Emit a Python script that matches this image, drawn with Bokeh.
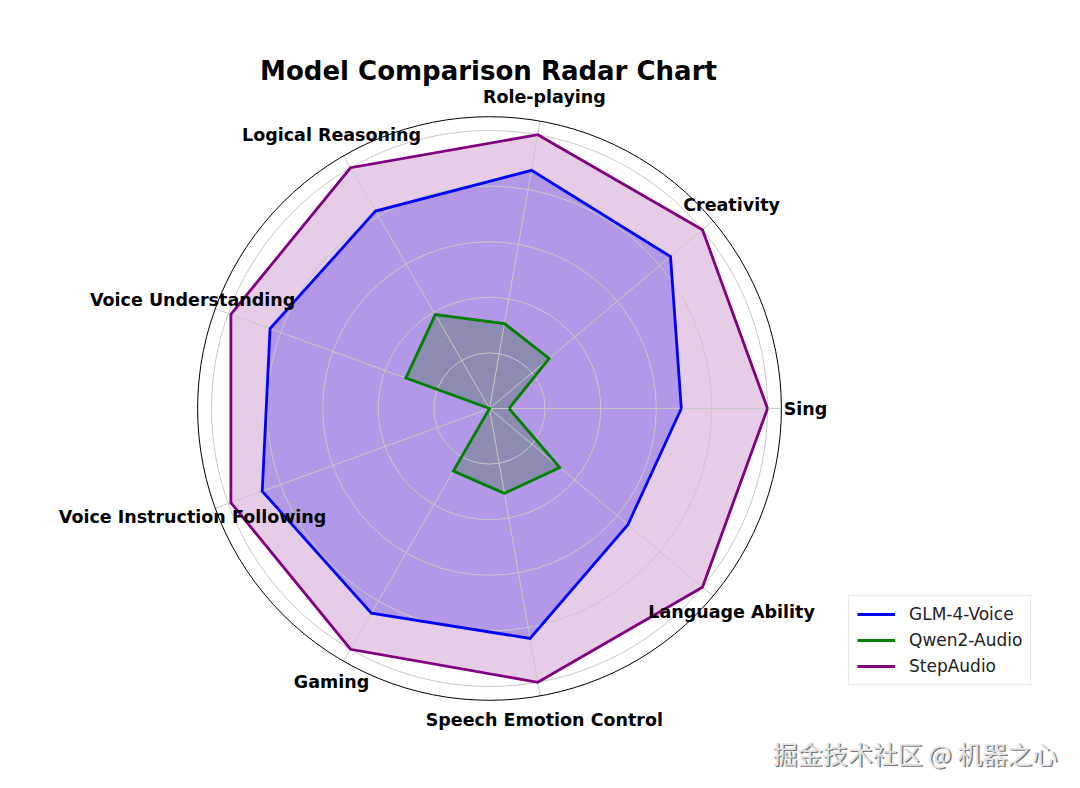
import numpy as np
from bokeh.plotting import figure
from bokeh.models import Legend, LegendItem, Label
from bokeh.core.properties import value
from bokeh.embed import file_html
from bokeh.resources import INLINE

# ---- data ----
categories = ["Sing", "Creativity", "Role-playing", "Logical Reasoning",
              "Voice Understanding", "Voice Instruction Following", "Gaming",
              "Speech Emotion Control", "Language Ability"]
glm_values = [69, 85, 87, 82, 84, 87, 85, 84, 65]
qwen_values = [7, 28, 31, 39, 32, 0, 26, 31, 33]
step_values = [100, 100, 100, 100, 99, 99, 100, 100, 100]
series_names = ["GLM-4-Voice", "Qwen2-Audio", "StepAudio"]
series_colors = ["#0000ff", "#008000", "#800080"]
series_alpha = [0.25, 0.25, 0.2]
r_ticks = [20, 40, 60, 80, 100]
r_max = 105

# ---- layout ----
W, H = 1064, 772
S = 2.78            # px per unit
CX, CY = 489, 408   # radar centre, px from frame top-left

p = figure(width=W, height=H, output_backend="svg", toolbar_location=None,
           x_range=(-CX / S, (W - CX) / S), y_range=(-(H - CY) / S, CY / S),
           min_border=0, match_aspect=False)
p.axis.visible = False
p.grid.visible = False
p.outline_line_color = None
p.background_fill_color = "white"
p.border_fill_color = "white"

n = len(categories)
theta = np.array([2 * np.pi * i / n for i in range(n)])

def polar(vals):
    v = np.asarray(vals, dtype=float)
    xs = v * np.cos(theta)
    ys = v * np.sin(theta)
    return list(xs) + [xs[0]], list(ys) + [ys[0]]

all_series = [glm_values, qwen_values, step_values]

# fills (below grid)
for vals, col, a in zip(all_series, series_colors, series_alpha):
    xs, ys = polar(vals)
    p.patch(xs, ys, fill_color=col, fill_alpha=a, line_color=None)

# grid circles and spokes
grid_col = "#c8c8c8"
p.circle(x=[0] * len(r_ticks), y=[0] * len(r_ticks), radius=r_ticks,
         fill_color=None, line_color=grid_col, line_width=1)
for t in theta:
    p.line([0, r_max * np.cos(t)], [0, r_max * np.sin(t)], line_color=grid_col, line_width=1)
# outer spine
p.circle(x=[0], y=[0], radius=[r_max], fill_color=None, line_color="black", line_width=1)

# outlines
line_renderers = []
for vals, col in zip(all_series, series_colors):
    xs, ys = polar(vals)
    r = p.line(xs, ys, line_color=col, line_width=2.8, line_join="miter")
    line_renderers.append(r)

# category labels
lab_r = 316 / S
p.text(x=list(lab_r * np.cos(theta)), y=list(lab_r * np.sin(theta)), text=categories,
       text_align="center", text_baseline="middle",
       text_font=value("DejaVu Sans"), text_font_style="bold",
       text_font_size="17.5px", text_color="black")

# title
p.add_layout(Label(x=488, y=H - 70, x_units="screen", y_units="screen",
                   text="Model Comparison Radar Chart", text_align="center",
                   text_baseline="middle", text_font="DejaVu Sans",
                   text_font_style="bold", text_font_size="26px", text_color="black"))

# legend
legend = Legend(items=[LegendItem(label=nm, renderers=[r]) for nm, r in zip(series_names, line_renderers)],
                location=(848, H - 685), label_text_font="DejaVu Sans", label_text_font_size="17px",
                glyph_width=38, glyph_height=20, label_height=20, label_standoff=14,
                spacing=6, padding=8, margin=0, border_line_color="#d0d0d0",
                border_line_width=1, background_fill_alpha=0.8, label_text_color="#222222")
p.add_layout(legend)

# watermark
wm = "掘金技术社区 @ 机器之心"
p.add_layout(Label(x=772 + 1.5, y=H - 752 - 1.5, x_units="screen", y_units="screen",
                   text=wm, text_align="left", text_baseline="middle",
                   text_font="Noto Sans CJK SC", text_font_size="25px", text_color="#7a7a7a"))
p.add_layout(Label(x=772, y=H - 752, x_units="screen", y_units="screen",
                   text=wm, text_align="left", text_baseline="middle",
                   text_font="Noto Sans CJK SC", text_font_size="25px", text_color="#e4e4e4"))

open("out.html", "w").write(file_html(p, INLINE))
